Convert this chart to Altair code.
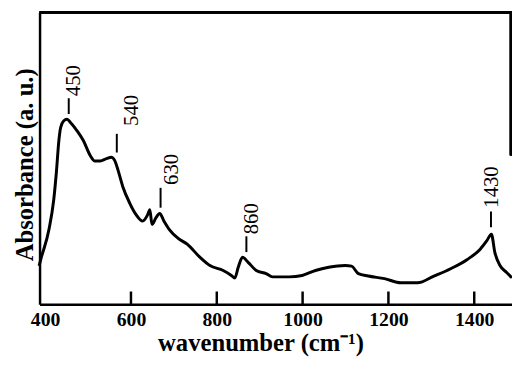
import altair as alt
import pandas as pd

# Spectrum trace (wavenumber in cm^-1, absorbance in arbitrary units)
wavenumber = [386, 390, 409, 420, 426, 432, 436, 443, 451, 459, 474, 489, 505, 516,
              528, 543, 554, 562, 570, 581, 597, 612, 627, 639, 644, 649, 658, 667,
              677, 689, 710, 731, 761, 784, 815, 834, 842, 850, 860, 873, 892, 915,
              930, 969, 999, 1030, 1061, 1099, 1114, 1130, 1153, 1191, 1229, 1268,
              1306, 1345, 1383, 1414, 1429, 1440, 1448, 1460, 1475, 1488]
absorbance = [13.2, 15.5, 25.7, 35.8, 44.9, 56.1, 60.5, 62.8, 63.4, 62.3, 59.5, 56.1,
              51.0, 49.1, 49.1, 49.9, 50.4, 49.3, 45.9, 40.3, 34.7, 30.7, 28.5, 30.7,
              32.4, 27.4, 29.6, 31.1, 28.5, 25.7, 22.6, 20.6, 16.1, 13.3, 11.6, 9.9,
              9.0, 12.7, 16.1, 14.4, 11.6, 10.5, 9.4, 9.4, 9.9, 11.6, 12.7, 13.3,
              13.1, 10.5, 9.7, 8.8, 7.4, 7.4, 9.7, 12.2, 15.3, 18.9, 21.7, 24.0,
              17.8, 13.3, 11.0, 9.1]

# Peak annotations
ann_labels = ["450", "540", "630", "860", "1430"]
ann_line_wn = [455, 567, 669, 869, 1439]
ann_line_lo = [65.2, 52.0, 33.1, 17.9, 26.4]
ann_line_hi = [70.6, 58.4, 39.9, 23.3, 31.8]
ann_text_wn = [468, 602, 696, 883, 1442]
ann_text_y = [71.3, 61.1, 40.9, 24.0, 33.1]

tick_values = [600, 800, 1000, 1200, 1400]
label_values = [400, 600, 800, 1000, 1200, 1400]

W, H = 479, 296
FONT = "Liberation Serif"

spec = pd.DataFrame({"wn": wavenumber, "a": absorbance})
ann = pd.DataFrame({"label": ann_labels, "lx": ann_line_wn, "lo": ann_line_lo,
                    "hi": ann_line_hi, "tx": ann_text_wn, "ty": ann_text_y})
ticks = pd.DataFrame({"t": tick_values})

xscale = alt.Scale(domain=[387, 1488], nice=False, zero=False)
yscale = alt.Scale(domain=[0, 100], nice=False, zero=False)

xaxis = alt.Axis(values=label_values, format="d", ticks=False, grid=False,
                 domainColor="black", domainWidth=2.5, labelFont=FONT,
                 labelFontWeight="bold", labelFontSize=20, labelColor="black",
                 labelPadding=5, labelFlush=False,
                 title="wavenumber (cm\u207b\u00b9)", titleFont=FONT,
                 titleFontWeight="bold", titleFontSize=25, titleColor="black",
                 titlePadding=2, titleX=224)
yaxis = alt.Axis(labels=False, ticks=False, grid=False, domainColor="black",
                 domainWidth=2.5, title="Absorbance (a. u.)", titleFont=FONT,
                 titleFontWeight="bold", titleFontSize=25, titleColor="black",
                 titlePadding=2, titleY=154)

line = alt.Chart(spec).mark_line(color="black", strokeWidth=3, interpolate="monotone").encode(
    x=alt.X("wn:Q", scale=xscale, axis=xaxis),
    y=alt.Y("a:Q", scale=yscale, axis=yaxis),
)

ann_rules = alt.Chart(ann).mark_rule(color="black", strokeWidth=2).encode(
    x=alt.X("lx:Q", scale=xscale), y=alt.Y("lo:Q", scale=yscale), y2="hi:Q"
)
ann_text = alt.Chart(ann).mark_text(angle=270, align="left", baseline="middle",
                                    font=FONT, fontSize=21, color="black").encode(
    x=alt.X("tx:Q", scale=xscale), y=alt.Y("ty:Q", scale=yscale), text="label:N"
)

tick_rules = alt.Chart(ticks).mark_rule(color="black", strokeWidth=2.5).encode(
    x=alt.X("t:Q", scale=xscale), y=alt.value(H), y2=alt.value(H - 13)
)

top_rule = alt.Chart(ticks).mark_rule(color="black", strokeWidth=2.5).encode(
    x=alt.value(0), x2=alt.value(W), y=alt.value(0)
)
right_rule = alt.Chart(ticks).mark_rule(color="black", strokeWidth=2.5).encode(
    x=alt.value(W - 1), y=alt.value(0), y2=alt.value(145)
)

chart = alt.layer(line, ann_rules, ann_text, tick_rules, top_rule, right_rule).properties(
    width=W, height=H,
    autosize=alt.AutoSizeParams(type="none"),
    padding={"left": 32, "top": 2, "right": 0, "bottom": 55},
    background="white",
).configure_view(stroke=None)

chart.save("out.html", embed_options={"renderer": "svg", "actions": False})
